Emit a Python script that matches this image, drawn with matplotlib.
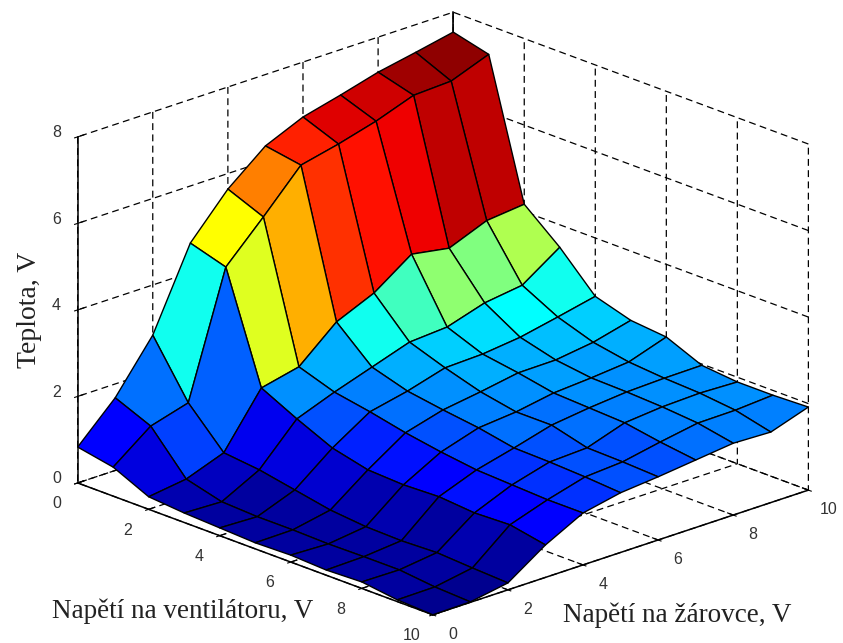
import numpy as np
import matplotlib
matplotlib.use("Agg")
import matplotlib.pyplot as plt
from matplotlib.colors import LinearSegmentedColormap
from mpl_toolkits.mplot3d import Axes3D, proj3d

# napeti na ventilatoru / zarovce, V
vent = [0, 1, 2, 3, 4, 5, 6, 7, 8, 9, 10]
bulb = [0, 1, 2, 3, 4, 5, 6, 7, 8, 9, 10]

# teplota, V - one list per bulb voltage, going along ventilator voltage
t_b0 = [0.83, 0.67, 0.29, 0.22, 0.18, 0.14, 0.16, 0.12, 0.15, 0.04, 0.00]
t_b1 = [1.68, 1.33, 0.41, 0.19, 0.15, 0.15, 0.13, 0.14, 0.14, 0.05, 0.01]
t_b2 = [2.84, 1.58, 0.73, 0.64, 0.48, 0.32, 0.24, 0.22, 0.25, 0.20, 0.16]
t_b3 = [4.68, 4.43, 1.94, 1.53, 1.16, 0.96, 0.92, 0.95, 0.88, 0.91, 0.75]
t_b4 = [5.64, 5.30, 2.14, 1.86, 1.71, 1.53, 1.39, 1.28, 1.24, 1.20, 1.20]
t_b5 = [6.35, 6.21, 2.89, 2.15, 1.90, 1.77, 1.66, 1.50, 1.48, 1.44, 1.38]
t_b6 = [6.73, 6.41, 3.27, 2.44, 2.15, 1.90, 1.74, 1.74, 1.52, 1.50, 1.46]
t_b7 = [6.95, 6.65, 3.88, 2.50, 2.18, 2.05, 1.89, 1.85, 1.81, 1.67, 1.56]
t_b8 = [7.19, 6.96, 3.73, 2.77, 2.28, 2.06, 1.95, 1.93, 1.89, 1.82, 1.66]
t_b9 = [7.36, 7.00, 4.08, 2.89, 2.46, 2.18, 2.03, 1.96, 1.92, 1.83, 1.63]
t_b10 = [7.54, 7.33, 4.17, 3.48, 2.65, 2.40, 2.32, 1.97, 1.89, 1.89, 1.92]

xy_ticks = [0, 2, 4, 6, 8, 10]
z_ticks = [0, 2, 4, 6, 8]

plt.rcParams['font.family'] = 'Liberation Sans'
plt.rcParams['grid.color'] = 'k'
plt.rcParams['grid.linestyle'] = (0, (5.5, 3.5))
plt.rcParams['grid.linewidth'] = 0.9

# matlab's jet, mpl's one has other breakpoints
jet64 = LinearSegmentedColormap.from_list('jet64', [
    (0.0, (0, 0, 0.5625)), (0.111, (0, 0, 1)), (0.365, (0, 1, 1)),
    (0.619, (1, 1, 0)), (0.873, (1, 0, 0)), (1.0, (0.5, 0, 0))], N=64)

W, H = 843, 643
fig = plt.figure(figsize=(W / 100, H / 100), dpi=100)
S = 1000.0
ax = fig.add_axes([-70.5 / W, -184 / H, S / W, S / H], projection='3d', computed_zorder=False)
ax.patch.set_visible(False)
ax.set_proj_type('ortho')
ax.view_init(elev=20.55, azim=-43.4)
ax.set_box_aspect((1, 1, 0.715), zoom=0.7952)

T = np.array([t_b0, t_b1, t_b2, t_b3, t_b4, t_b5, t_b6, t_b7, t_b8, t_b9, t_b10]).T
X, Y = np.meshgrid(vent, bulb, indexing='ij')
colors = jet64(plt.Normalize(T.min(), T.max())(T))
ax.plot([0, 0], [10, 10], [0, 8], color='k', lw=1.1, zorder=1)
ax.plot_surface(X, Y, T, facecolors=colors, rstride=1, cstride=1, shade=False,
                edgecolor='k', linewidth=1.0, antialiased=True, zorder=3)

ax.set_xlim(0, 10, view_margin=0)
ax.set_ylim(0, 10, view_margin=0)
ax.set_zlim(0, 8, view_margin=0)
ax.set_xticks(xy_ticks)
ax.set_yticks(xy_ticks)
ax.set_zticks(z_ticks)
ax.zaxis.set_ticks_position('lower')

for axis in (ax.xaxis, ax.yaxis, ax.zaxis):
    axis.set_pane_color((1, 1, 1, 0))
    axis.pane.set_edgecolor('none')
    axis.line.set_color('k')
    axis.line.set_linewidth(1.1)
    axis._axinfo['tick']['inward_factor'] = 0.1
    axis._axinfo['tick']['outward_factor'] = 0.2
    axis.set_tick_params(width=1.0, color='k', label1On=False, label2On=False)


def tick_label(x, y, z, s):
    # the axis' own labels can't be nudged enough, so project the spot by hand
    px, py, _ = proj3d.proj_transform(x, y, z, ax.get_proj())
    ax.text2D(px, py, s, transform=ax.transData, fontsize=11.5, color='#333333',
              ha='center', va='center', zorder=5)


for v in xy_ticks:
    tick_label(v, -0.56, -0.32, str(v))
for b in xy_ticks:
    tick_label(10.56, b, -0.28, str(b))
for z in z_ticks:
    tick_label(-0.3, -0.28, z + 0.09, str(z))

fig.text(52 / W, 1 - 611 / H, 'Napětí na ventilátoru, V', family='Liberation Serif', fontsize=19.5,
         va='center', ha='left', color='#222222')
fig.text(563 / W, 1 - 615 / H, 'Napětí na žárovce, V', family='Liberation Serif', fontsize=19.5,
         va='center', ha='left', color='#222222')
fig.text(30 / W, 1 - 310 / H, 'Teplota, V', family='Liberation Serif', fontsize=20,
         rotation=90, va='center', ha='center', color='#222222')

fig.savefig('out.png', dpi=100)
